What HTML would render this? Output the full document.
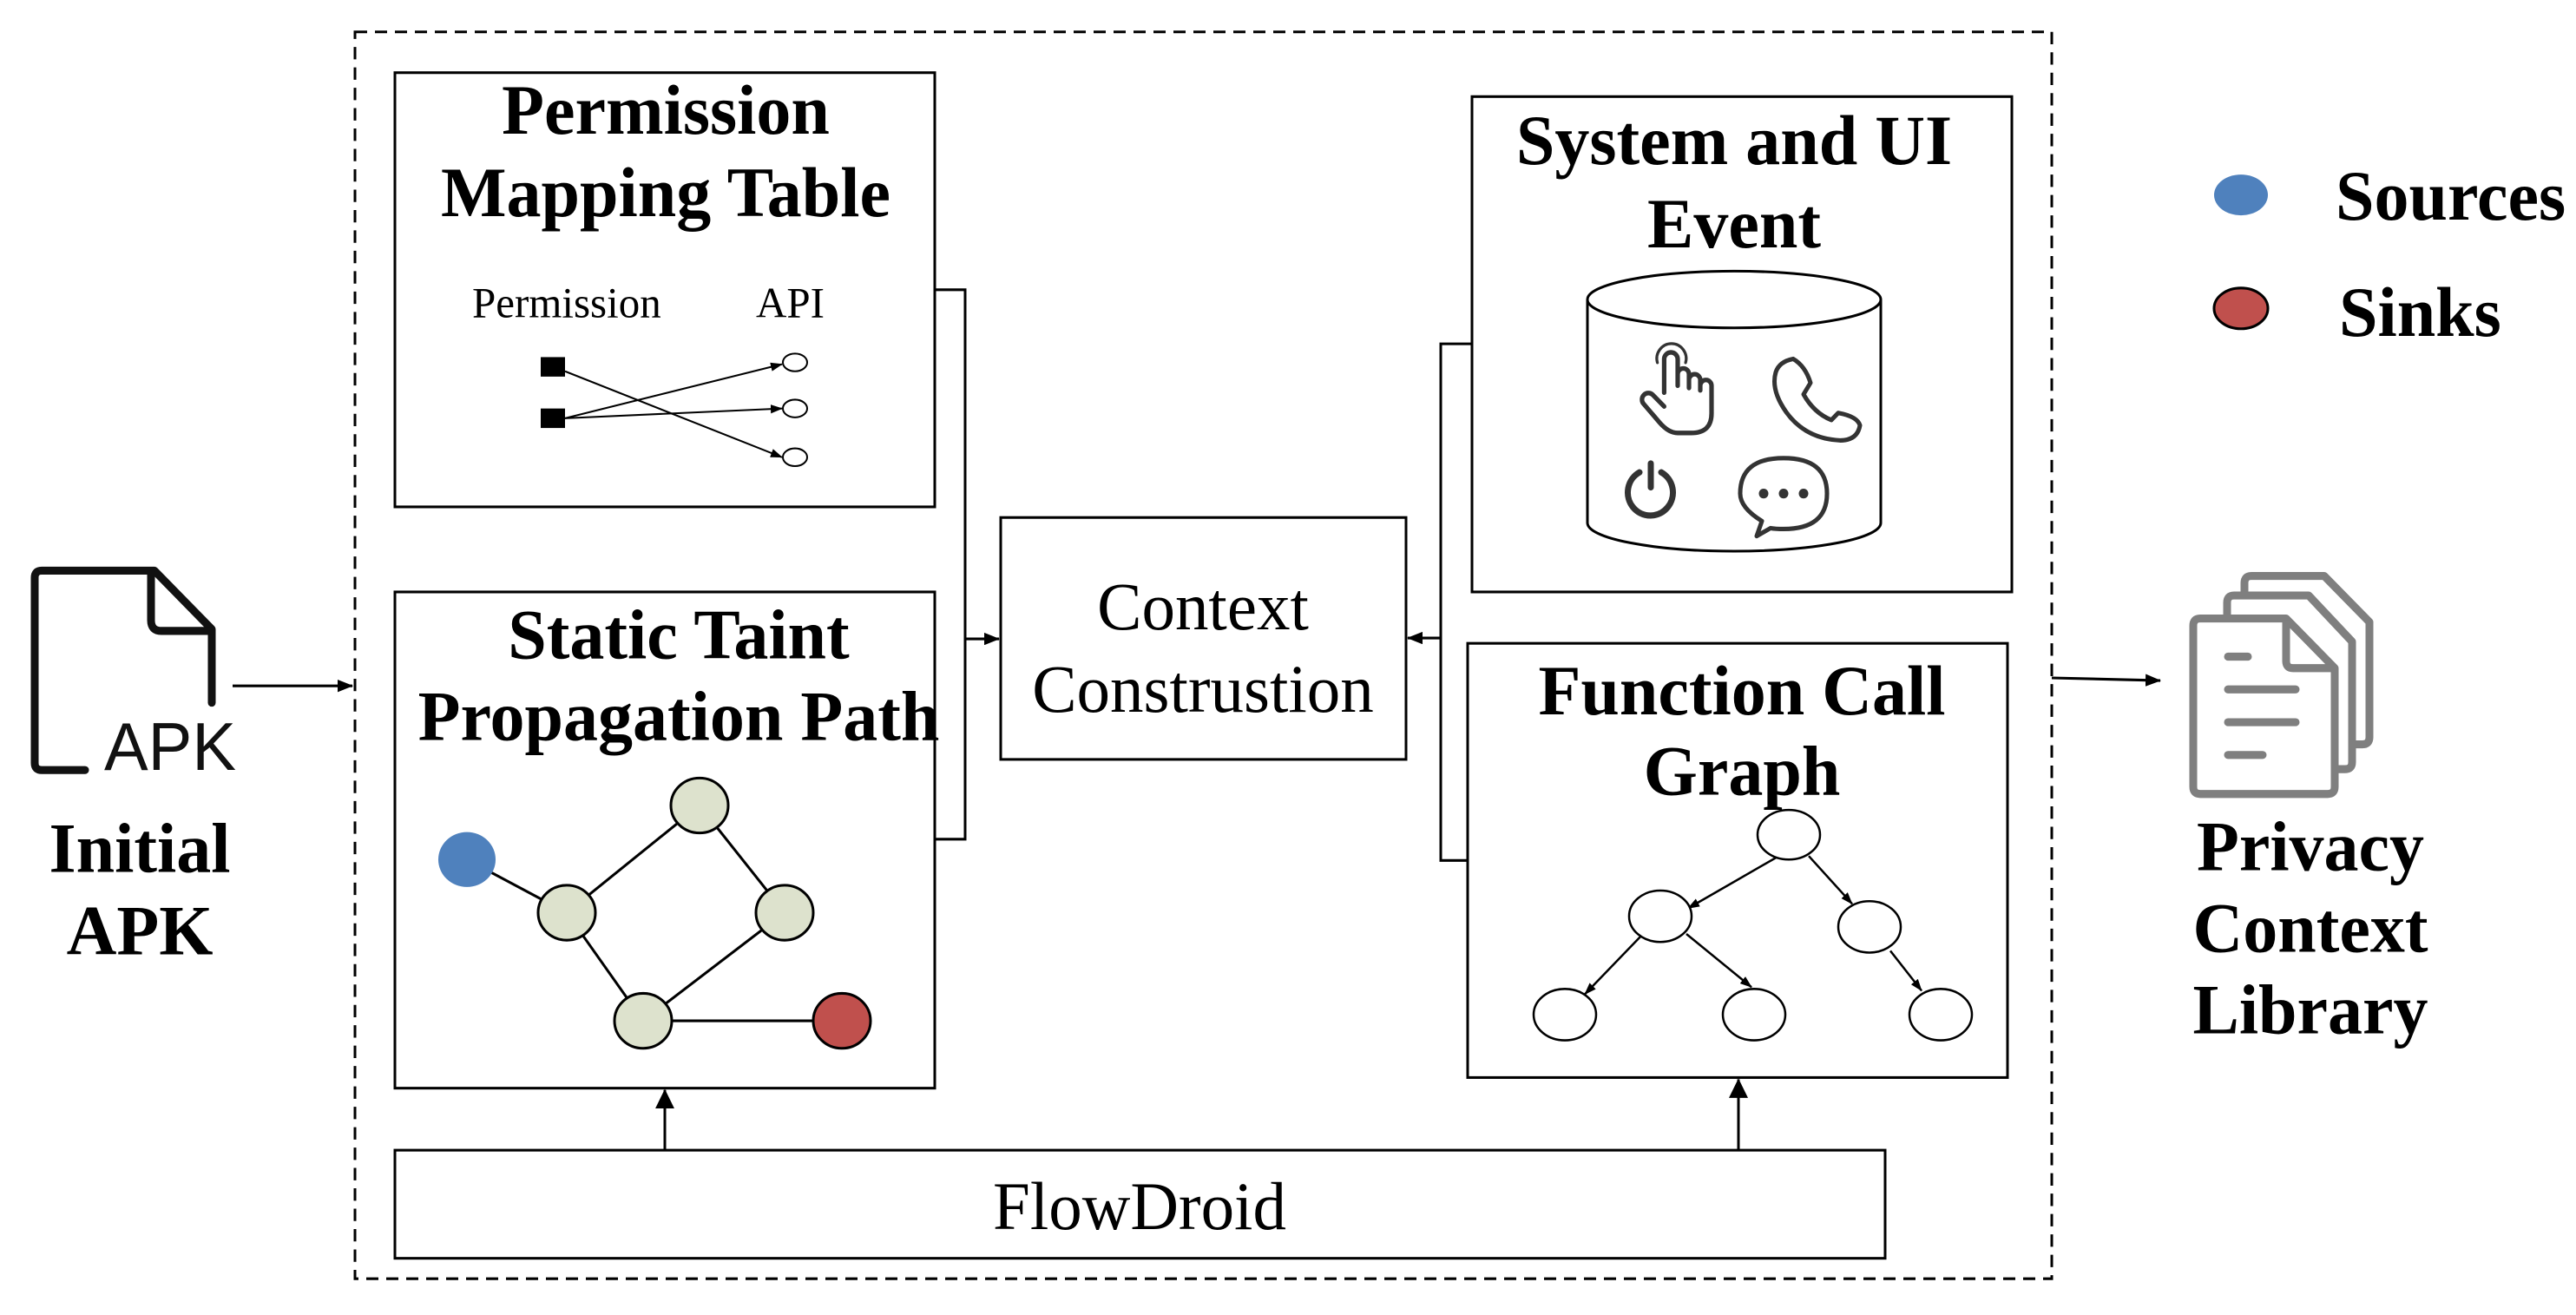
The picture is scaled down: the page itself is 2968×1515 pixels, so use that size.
<!DOCTYPE html>
<html><head><meta charset="utf-8"><style>
html,body{margin:0;padding:0;background:#fff;}
svg{display:block;}
.b{font-family:"Liberation Serif",serif;font-weight:bold;font-size:80px;text-anchor:middle;fill:#000;}
.r{font-family:"Liberation Serif",serif;font-size:77px;text-anchor:middle;fill:#000;}
</style></head><body>
<svg width="2968" height="1515" viewBox="0 0 2968 1515" xmlns="http://www.w3.org/2000/svg">
<defs>
<marker id="a" markerWidth="14" markerHeight="10" refX="13" refY="5" orient="auto" markerUnits="userSpaceOnUse" viewBox="0 0 14 10"><path d="M0,0L14,5L0,10z" fill="#000"/></marker>
<marker id="a2" markerWidth="18" markerHeight="14" refX="17" refY="7" orient="auto" markerUnits="userSpaceOnUse" viewBox="0 0 18 14"><path d="M0,0L18,7L0,14z" fill="#000"/></marker>
<marker id="a3" markerWidth="22" markerHeight="28" refX="21" refY="14" orient="auto" markerUnits="userSpaceOnUse" viewBox="0 0 22 28"><path d="M0,3L22,14L0,25z" fill="#000"/></marker>
</defs>
<g transform="scale(1,1.0209)">
<g fill="none" stroke="#000" stroke-width="3">
<rect x="409" y="36" width="1955" height="1407" stroke-dasharray="14,9"/>
<rect x="455" y="82" width="622" height="490"/>
<rect x="455" y="668" width="622" height="560"/>
<rect x="1153" y="584" width="467" height="273"/>
<rect x="455" y="1298" width="1717" height="122"/>
<rect x="1696" y="109" width="622" height="559"/>
<rect x="1691" y="726" width="622" height="490"/>
<polyline points="1077,327 1112,327 1112,947 1077,947"/>
<line x1="1112" y1="721" x2="1151" y2="721" marker-end="url(#a2)"/>
<polyline points="1696,388 1660,388 1660,971 1691,971"/>
<line x1="1660" y1="720" x2="1622" y2="720" marker-end="url(#a2)"/>
<line x1="766" y1="1298" x2="766" y2="1230" marker-end="url(#a3)"/>
<line x1="2003" y1="1298" x2="2003" y2="1218" marker-end="url(#a3)"/>
<line x1="268" y1="774" x2="406" y2="774" marker-end="url(#a2)"/>
<line x1="2364" y1="765" x2="2489" y2="768" marker-end="url(#a2)"/>
</g>
<text class="b" x="767" y="151">Permission</text>
<text class="b" x="767" y="244">Mapping Table</text>
<text class="b" x="782" y="743">Static Taint</text>
<text class="b" x="782" y="835">Propagation Path</text>
<text class="r" x="1386" y="710">Context</text>
<text class="r" x="1386" y="803">Construstion</text>
<text class="r" x="1313" y="1387">FlowDroid</text>
<text class="b" x="1998" y="185">System and UI</text>
<text class="b" x="1998" y="279">Event</text>
<text class="b" x="2007" y="806">Function Call</text>
<text class="b" x="2007" y="897">Graph</text>
<text class="b" x="161" y="984">Initial</text>
<text class="b" x="161" y="1077">APK</text>
<text class="b" x="2662" y="982">Privacy</text>
<text class="b" x="2662" y="1074">Context</text>
<text class="b" x="2662" y="1166">Library</text>
<text class="b" x="2691" y="248" style="text-anchor:start">Sources</text>
<text class="b" x="2695" y="379" style="text-anchor:start">Sinks</text>
<ellipse cx="2582" cy="220" rx="31" ry="23" fill="#4f81bd"/>
<ellipse cx="2582" cy="348" rx="31" ry="23" fill="#c0504d" stroke="#000" stroke-width="3"/>
<text x="544" y="358" style="font-family:'Liberation Serif',serif;font-size:49px">Permission</text>
<text x="871" y="358" style="font-family:'Liberation Serif',serif;font-size:49px">API</text>
<rect x="623" y="403" width="28" height="22" fill="#000"/>
<rect x="623" y="461" width="28" height="22" fill="#000"/>
<g stroke="#000" stroke-width="2" fill="none">
<line x1="651" y1="419" x2="901" y2="516" marker-end="url(#a)"/>
<line x1="651" y1="472" x2="901" y2="411" marker-end="url(#a)"/>
<line x1="651" y1="472" x2="901" y2="461" marker-end="url(#a)"/>
<ellipse cx="916" cy="409" rx="14" ry="10" fill="#fff"/>
<ellipse cx="916" cy="461" rx="14" ry="10" fill="#fff"/>
<ellipse cx="916" cy="516" rx="14" ry="10" fill="#fff"/>
</g>
<g stroke="#000" stroke-width="3">
<line x1="538" y1="970" x2="653" y2="1030"/>
<line x1="653" y1="1030" x2="806" y2="909"/>
<line x1="806" y1="909" x2="904" y2="1030"/>
<line x1="904" y1="1030" x2="741" y2="1152"/>
<line x1="653" y1="1030" x2="741" y2="1152"/>
<line x1="741" y1="1152" x2="970" y2="1152"/>
<ellipse cx="538" cy="970" rx="33" ry="31" fill="#4f81bd" stroke="none"/>
<ellipse cx="653" cy="1030" rx="33" ry="31" fill="#dde2cd"/>
<ellipse cx="806" cy="909" rx="33" ry="31" fill="#dde2cd"/>
<ellipse cx="904" cy="1030" rx="33" ry="31" fill="#dde2cd"/>
<ellipse cx="741" cy="1152" rx="33" ry="31" fill="#dde2cd"/>
<ellipse cx="970" cy="1152" rx="33" ry="31" fill="#c0504d"/>
</g>
<g stroke="#000" stroke-width="2.5" fill="#fff">
<line x1="2046" y1="968" x2="1945" y2="1025" marker-end="url(#a)"/>
<line x1="2084" y1="966" x2="2134" y2="1020" marker-end="url(#a)"/>
<line x1="1890" y1="1057" x2="1826" y2="1122" marker-end="url(#a)"/>
<line x1="1943" y1="1054" x2="2018" y2="1114" marker-end="url(#a)"/>
<line x1="2178" y1="1073" x2="2214" y2="1118" marker-end="url(#a)"/>
<ellipse cx="2061" cy="942" rx="36" ry="28"/>
<ellipse cx="1913" cy="1034" rx="36" ry="29"/>
<ellipse cx="2154" cy="1046" rx="36" ry="29"/>
<ellipse cx="1803" cy="1145" rx="36" ry="29"/>
<ellipse cx="2021" cy="1145" rx="36" ry="29"/>
<ellipse cx="2236" cy="1145" rx="36" ry="29"/>
</g>
<g stroke="#000" stroke-width="3" fill="none">
<path d="M1829,338 L1829,590 A169,32 0 0 0 2167,590 L2167,338"/>
<ellipse cx="1998" cy="338" rx="169" ry="32" fill="#fff"/>
</g>
<g stroke="#333" stroke-width="5" fill="none" stroke-linecap="round" stroke-linejoin="round">
<g transform="translate(1933,447) scale(1.3) translate(-1928,-455)">
<path d="M1916,452 L1916,423 A6,6 0 0 1 1928,423 L1928,446 M1928,436 A5,5 0 0 1 1938,436 L1938,448 M1938,441 A5,5 0 0 1 1948,441 L1948,450 M1948,446 A5,5 0 0 1 1958,446 L1958,470 Q1958,487 1940,487 L1928,487 Q1920,487 1912,478 L1898,462 A5,5 0 0 1 1906,454 L1916,464" stroke-width="4"/>
<path d="M1910,426 A13,13 0 1 1 1935,426" stroke-width="2.5"/>
</g>
<path d="M2046,420 Q2040,440 2058,465 Q2080,495 2120,497 Q2140,497 2143,480 Q2140,470 2118,466 L2110,474 Q2090,466 2078,445 L2086,432 Q2080,413 2066,405 Q2050,408 2046,420 Z"/>
<path d="M1889,533 A26,26 0 1 0 1914,533" stroke-width="7"/>
<line x1="1902" y1="523" x2="1902" y2="550" stroke-width="7"/>
<path d="M2030,588 Q2005,573 2005,557 Q2005,517 2055,517 Q2105,517 2105,557 Q2105,597 2055,597 Q2046,597 2040,596 L2024,605 Z"/>
</g>
<g fill="#333"><circle cx="2032" cy="557" r="5.5"/><circle cx="2055" cy="557" r="5.5"/><circle cx="2078" cy="557" r="5.5"/></g>
<g stroke="#111" stroke-width="9" fill="none" stroke-linejoin="round" stroke-linecap="round">
<path d="M98,869 L48,869 Q40,869 40,861 L40,652 Q40,644 48,644 L178,644 L244,710 L244,793"/>
<path d="M174,646 L174,700 Q174,712 186,712 L242,712"/>
</g>
<text x="120" y="869" style="font-family:'Liberation Sans',sans-serif;font-size:76px;fill:#111">APK</text>
<g stroke="#7f7f7f" stroke-width="9" fill="#fff" stroke-linejoin="round">
<path d="M2586,658 Q2586,650 2594,650 L2678,650 L2730,702 L2730,832 Q2730,840 2722,840 L2594,840 Q2586,840 2586,832 Z"/>
<path d="M2566,680 Q2566,672 2574,672 L2660,672 L2710,724 L2710,860 Q2710,868 2702,868 L2574,868 Q2566,868 2566,860 Z"/>
<path d="M2527,706 Q2527,698 2535,698 L2634,698 L2690,754 L2690,888 Q2690,896 2682,896 L2535,896 Q2527,896 2527,888 Z"/>
<path d="M2634,700 L2634,746 Q2634,754 2642,754 L2688,754" fill="none"/>
<g stroke-linecap="round"><line x1="2567" y1="741" x2="2590" y2="741"/><line x1="2567" y1="778" x2="2645" y2="778"/><line x1="2567" y1="815" x2="2645" y2="815"/><line x1="2567" y1="852" x2="2607" y2="852"/></g>
</g>
</g>
</svg>
</body></html>
